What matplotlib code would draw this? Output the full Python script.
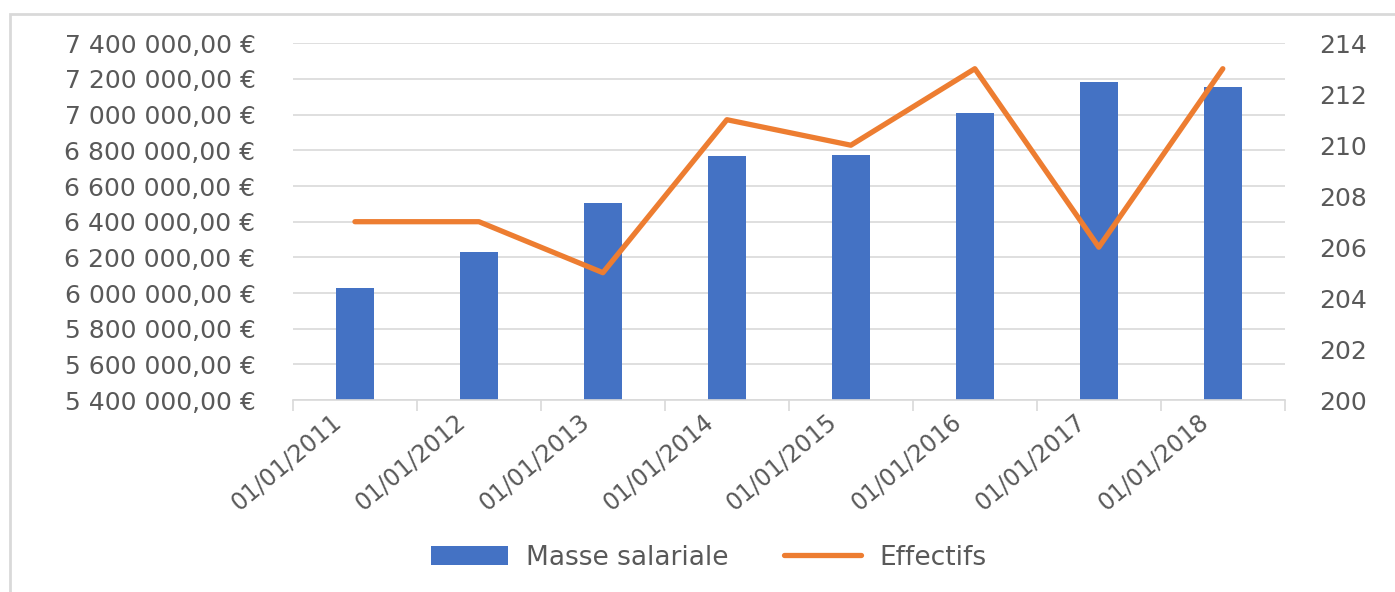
import matplotlib.pyplot as plt
import matplotlib.transforms as mtransforms
import numpy as np
from matplotlib.patches import Rectangle

plt.rcParams['font.family'] = ['DejaVu Sans']

# Données
dates = ["01/01/2011", "01/01/2012", "01/01/2013", "01/01/2014",
         "01/01/2015", "01/01/2016", "01/01/2017", "01/01/2018"]
masse_salariale = [6030000, 6230000, 6505000, 6768000,
                   6773000, 7010000, 7182000, 7155000]
effectifs = [207, 207, 205, 211, 210, 213, 206, 213]

gris = "#595959"

fig = plt.figure(figsize=(13.95, 5.92), dpi=100)
ax = fig.add_axes([0.21, 0.324, 0.711, 0.603])
ax2 = ax.twinx()

x = np.arange(len(dates))
ax.bar(x, masse_salariale, width=0.31, color="#4472C4", label="Masse salariale", zorder=2)
ax2.plot(x, effectifs, color="#ED7D31", linewidth=3.8, solid_capstyle="round",
         label="Effectifs", zorder=3)

ax.set_xlim(-0.5, len(dates) - 0.5)
ax.set_ylim(5400000, 7400000)
ticks_gauche = np.arange(5400000, 7400001, 200000)
ax.set_yticks(ticks_gauche)
ax.set_yticklabels([f"{v:,.2f} €".replace(",", " ").replace(".", ",")
                    for v in ticks_gauche])
ax2.set_ylim(200, 214)
ax2.set_yticks(np.arange(200, 215, 2))

ax.grid(axis="y", color="#d9d9d9", linewidth=1.2, zorder=0)
ax.set_axisbelow(True)

for a in (ax, ax2):
    for s in ("top", "left", "right", "bottom"):
        a.spines[s].set_visible(False)
ax.spines["bottom"].set_visible(True)
ax.spines["bottom"].set_color("#d9d9d9")
ax.spines["bottom"].set_linewidth(1.2)

ax.set_xticks(x)
ax.set_xticklabels(dates, rotation=40, ha="right", va="center",
                   rotation_mode="anchor", fontsize=17, color=gris)
ax.tick_params(axis="x", length=0, pad=13)
decalage = mtransforms.ScaledTranslation(-0.17, 0, fig.dpi_scale_trans)
for lab in ax.get_xticklabels():
    lab.set_transform(lab.get_transform() + decalage)
ax.set_xticks(np.arange(-0.5, len(dates), 1), minor=True)
ax.tick_params(axis="x", which="minor", length=8, color="#d9d9d9", width=1.2)
ax.tick_params(axis="y", length=0, labelsize=18, labelcolor=gris, pad=27)
ax2.tick_params(axis="y", length=0, labelsize=18, labelcolor=gris, pad=25)

h1, l1 = ax.get_legend_handles_labels()
h2, l2 = ax2.get_legend_handles_labels()
fig.legend(h1 + h2, l1 + l2, loc="center", bbox_to_anchor=(0.508, 0.058), ncol=2,
           frameon=False, fontsize=19, labelcolor=gris, handlelength=2.9,
           columnspacing=2.1, handletextpad=0.7)

# Cadre
fig.patches.append(Rectangle((10 / 1395, -0.05), 1.1, 1 - 14 / 592 + 0.05,
                             transform=fig.transFigure, fill=False,
                             edgecolor="#d9d9d9", linewidth=2.0))

fig.savefig("out.png", dpi=100)
